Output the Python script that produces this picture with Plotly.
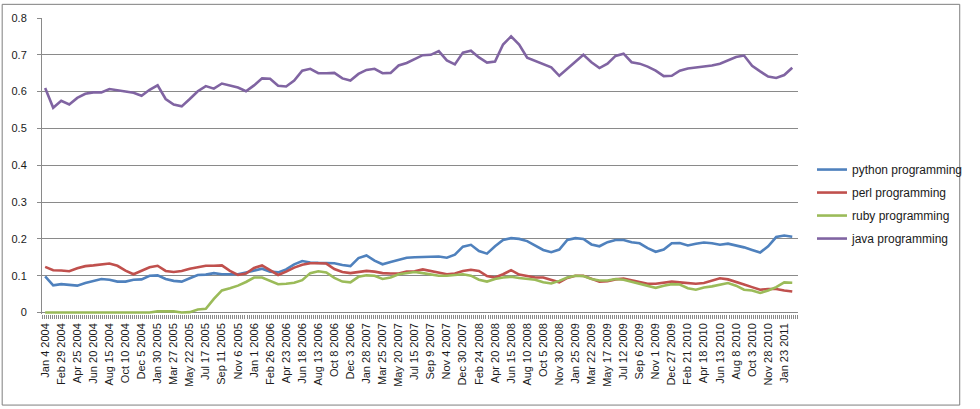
import plotly.graph_objects as go
import pandas as pd

# Sample dates (every 4 weeks, first week Jan 4 2004)
sample_dates = pd.date_range("2004-01-04", periods=94, freq="28D")

python_vals = [0.098,0.074,0.077,0.075,0.073,0.080,0.086,0.091,0.089,0.084,0.084,0.089,0.090,0.100,0.101,0.091,0.086,0.084,0.093,0.102,0.103,0.107,0.104,0.104,0.104,0.109,0.113,0.119,0.111,0.109,0.117,0.131,0.140,0.136,0.135,
               0.135,0.134,0.129,0.126,0.148,0.155,0.141,0.131,0.137,0.143,0.149,0.150,0.151,0.153,0.152,0.149,0.157,0.179,0.184,0.167,0.160,0.180,0.197,0.202,0.200,0.194,0.182,0.170,0.164,0.171,0.197,0.202,0.200,0.185,0.180,0.191,0.197,0.197,0.191,0.188,0.175,
               0.165,0.171,0.188,0.189,0.182,0.187,0.190,0.188,0.184,0.187,0.183,0.177,0.170,0.163,0.180,0.205,0.209,0.206]

perl_vals = [0.124,0.115,0.114,0.112,0.120,0.126,0.128,0.131,0.133,0.127,0.114,0.104,0.113,0.123,0.127,0.113,0.110,0.113,0.119,0.122,0.127,0.127,0.128,0.113,0.102,0.106,0.121,0.128,0.115,0.102,0.111,0.122,0.130,0.134,0.134,
             0.133,0.118,0.110,0.107,0.109,0.113,0.111,0.107,0.106,0.106,0.111,0.112,0.117,0.113,0.108,0.104,0.106,0.113,0.116,0.113,0.099,0.095,0.104,0.115,0.103,0.099,0.095,0.095,0.089,0.082,0.094,0.100,0.100,0.092,0.084,0.085,0.090,0.092,0.088,0.082,0.078,
             0.078,0.082,0.084,0.082,0.080,0.078,0.080,0.086,0.093,0.090,0.082,0.076,0.069,0.062,0.064,0.064,0.060,0.057]

ruby_vals = [0,0,0,0,0,0,0,0,0,0,0,0,0,0,0.003,0.004,0.003,0,0.001,0.008,0.010,0.037,0.060,0.066,0.073,0.083,0.095,0.095,0.086,0.077,0.078,0.081,0.088,0.107,0.112,
             0.109,0.094,0.084,0.082,0.097,0.101,0.100,0.091,0.095,0.104,0.108,0.110,0.107,0.104,0.100,0.100,0.102,0.104,0.100,0.089,0.084,0.091,0.095,0.097,0.094,0.091,0.089,0.082,0.079,0.086,0.095,0.100,0.099,0.091,0.087,0.087,0.091,0.089,0.084,0.078,0.074,
             0.067,0.073,0.077,0.076,0.066,0.062,0.068,0.071,0.076,0.080,0.073,0.062,0.060,0.053,0.060,0.069,0.082,0.081]

java_vals = [0.610,0.556,0.575,0.565,0.583,0.594,0.598,0.598,0.607,0.604,0.601,0.597,0.589,0.605,0.617,0.580,0.565,0.560,0.580,0.601,0.615,0.608,0.622,0.617,0.611,0.601,0.617,0.636,0.635,0.616,0.614,0.630,0.657,0.662,0.650,
             0.650,0.651,0.636,0.630,0.648,0.659,0.662,0.650,0.651,0.671,0.678,0.688,0.699,0.700,0.710,0.685,0.674,0.706,0.711,0.693,0.679,0.682,0.728,0.750,0.728,0.692,0.684,0.675,0.666,0.643,0.662,0.680,0.700,0.680,0.664,0.676,0.697,0.703,0.680,0.676,0.668,
             0.657,0.642,0.643,0.657,0.663,0.666,0.667,0.671,0.676,0.684,0.694,0.698,0.670,0.655,0.641,0.637,0.645,0.665]

series_names = ["python programming", "perl programming", "ruby programming", "java programming"]
series_colors = ["#4F81BD", "#C0504D", "#9BBB59", "#8064A2"]

tick_dates = pd.date_range("2004-01-04", periods=47, freq="56D")
tick_labels = ["Jan 4 2004","Feb 29 2004","Apr 25 2004","Jun 20 2004","Aug 15 2004","Oct 10 2004","Dec 5 2004",
               "Jan 30 2005","Mar 27 2005","May 22 2005","Jul 17 2005","Sep 11 2005","Nov 6 2005",
               "Jan 1 2006","Feb 26 2006","Apr 23 2006","Jun 18 2006","Aug 13 2006","Oct 8 2006","Dec 3 2006",
               "Jan 28 2007","Mar 25 2007","May 20 2007","Jul 15 2007","Sep 9 2007","Nov 4 2007","Dec 30 2007",
               "Feb 24 2008","Apr 20 2008","Jun 15 2008","Aug 10 2008","Oct 5 2008","Nov 30 2008",
               "Jan 25 2009","Mar 22 2009","May 17 2009","Jul 12 2009","Sep 6 2009","Nov 1 2009","Dec 27 2009",
               "Feb 21 2010","Apr 18 2010","Jun 13 2010","Aug 8 2010","Oct 3 2010","Nov 28 2010",
               "Jan 23 2011"]

y_ticks = [0, 0.1, 0.2, 0.3, 0.4, 0.5, 0.6, 0.7, 0.8]
y_ticktext = ["0", "0.1", "0.2", "0.3", "0.4", "0.5", "0.6", "0.7", "0.8"]

GRAY = "#8a8a8a"
FONT = "Liberation Sans"

fig = go.Figure()
for name, vals, col in zip(series_names, [python_vals, perl_vals, ruby_vals, java_vals], series_colors):
    fig.add_trace(go.Scatter(x=sample_dates, y=vals, mode="lines", name=name,
                             legendgroup=name,
                             line=dict(color=col, width=2.6)))

fig.update_layout(
    width=980, height=409,
    margin=dict(l=42, r=169, t=15, b=95),
    paper_bgcolor="white", plot_bgcolor="white",
    font=dict(family=FONT, size=11, color="#1a1a1a"),
    showlegend=True,
    legend=dict(x=1.0185, xanchor="left", y=0.537, yanchor="top",
                font=dict(family=FONT, size=12, color="#1a1a1a"),
                tracegroupgap=4, bgcolor="rgba(0,0,0,0)"),
    shapes=[dict(type="rect", xref="paper", yref="paper",
                 x0=(1.5 - 42) / 769, x1=(975.5 - 42) / 769,
                 y0=(314 - 406) / 299, y1=(314 - 1.2) / 299,
                 line=dict(color="#7f7f7f", width=1), fillcolor="rgba(0,0,0,0)", layer="below")],
)

fig.update_xaxes(
    type="date",
    range=["2003-12-24", "2011-03-12"],
    tickmode="array", tickvals=tick_dates, ticktext=tick_labels,
    tickangle=-90, ticks="", showgrid=False, showline=False, zeroline=False,
    ticklabelstandoff=6,
    tickfont=dict(family=FONT, size=11, color="#1a1a1a"),
    minor=dict(ticks="outside", ticklen=4, tickcolor=GRAY, tickwidth=1,
               dtick=7 * 86400000, tick0="2003-12-31 12:00", showgrid=False),
)

fig.update_yaxes(
    range=[-0.004, 0.8],
    tickmode="array", tickvals=y_ticks, ticktext=y_ticktext,
    showgrid=True, gridcolor=GRAY, gridwidth=1,
    zeroline=True, zerolinecolor=GRAY, zerolinewidth=1,
    showline=True, linecolor=GRAY, linewidth=1,
    ticks="outside", ticklen=4, tickcolor=GRAY,
    ticklabelstandoff=8,
    tickfont=dict(family=FONT, size=11, color="#1a1a1a"),
)

fig.write_html("out.html", config={"displayModeBar": False},
               post_script="document.body.style.margin='0';")
